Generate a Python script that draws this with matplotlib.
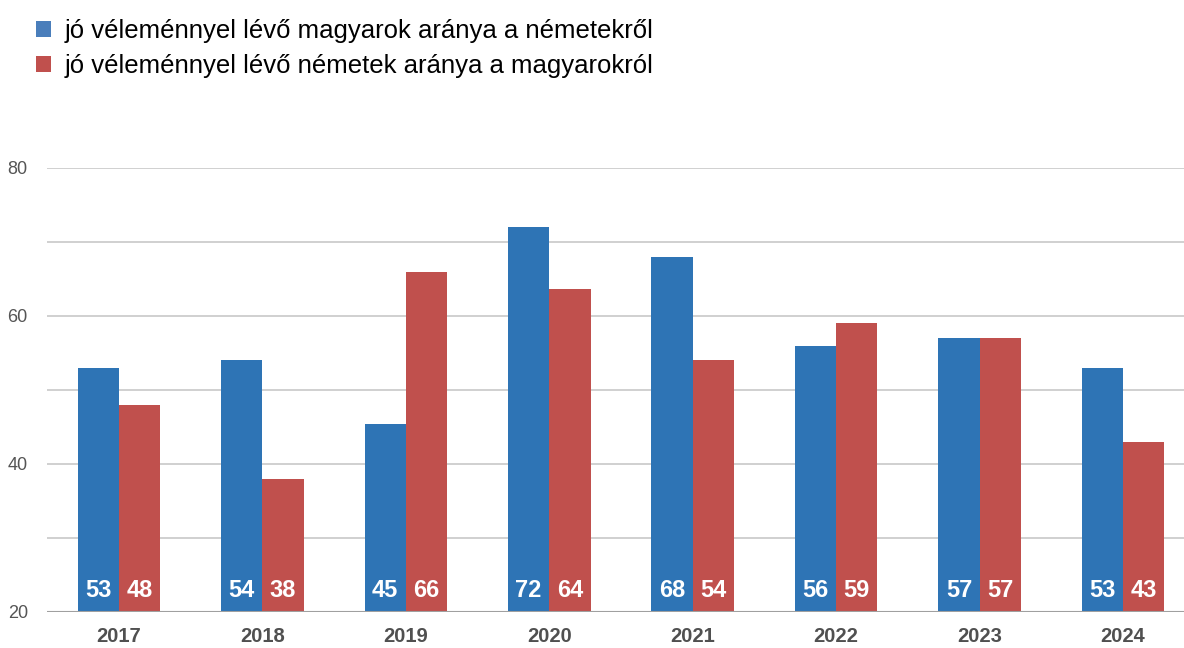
import numpy as np
import matplotlib.pyplot as plt
from matplotlib.patches import Patch

years = ['2017', '2018', '2019', '2020', '2021', '2022', '2023', '2024']
# bar heights as drawn (labels show rounded values)
magyar = [53, 54, 45.4, 72, 68, 56, 57, 53]
nemet = [48, 38, 66, 63.7, 54, 59, 57, 43]
series_names = ['jó véleménnyel lévő magyarok aránya a németekről',
                'jó véleménnyel lévő németek aránya a magyarokról']

blue = '#2E74B5'
red = '#C0504D'
narrow = ['Liberation Sans Narrow', 'Liberation Sans', 'DejaVu Sans']

fig = plt.figure(figsize=(11.84, 6.48), dpi=100)
ax = fig.add_axes([47.3 / 1184, 1 - 612 / 648, 1147.4 / 1184, 444 / 648])

x = np.arange(len(years))
w = 0.288
ax.bar(x - w / 2, magyar, w, color=blue, zorder=3)
ax.bar(x + w / 2, nemet, w, color=red, zorder=3)

ax.set_ylim(20, 80)
ax.set_xlim(-0.5, len(years) - 0.5)

for xi, v in zip(x, magyar):
    ax.text(xi - w / 2, 21.4, f'{round(v)}', ha='center', va='bottom', color='white',
            fontsize=17, fontweight='bold', family=narrow, zorder=4)
for xi, v in zip(x, nemet):
    ax.text(xi + w / 2, 21.4, f'{round(v)}', ha='center', va='bottom', color='white',
            fontsize=17, fontweight='bold', family=narrow, zorder=4)

# grid every 10, labels only every 20
for g in range(30, 81, 10):
    ax.axhline(g, color='#c8c8c8', lw=1.2, zorder=1)
ax.axhline(20, color='#a0a0a0', lw=1.5, zorder=5)

ax.set_yticks([20, 40, 60, 80])
ax.set_yticklabels(['20', '40', '60', '80'], color='#555555', fontsize=13, family=narrow)
ax.tick_params(axis='y', length=0, pad=14)
ax.set_xticks(x)
ax.set_xticklabels(years, color='#505050', fontsize=14.5, fontweight='bold', family=narrow)
ax.tick_params(axis='x', length=0, pad=11)

for s in ax.spines.values():
    s.set_visible(False)

handles = [Patch(facecolor='#4A7EBB'), Patch(facecolor=red)]
fig.legend(handles, series_names, loc='upper left', bbox_to_anchor=(36 / 1184, 1 - 19 / 648),
           frameon=False, prop={'family': narrow, 'size': 18.5},
           borderpad=0, borderaxespad=0,
           handlelength=0.6, handleheight=0.6, handletextpad=0.5, labelspacing=0.42)

fig.savefig('out.png', dpi=100)
